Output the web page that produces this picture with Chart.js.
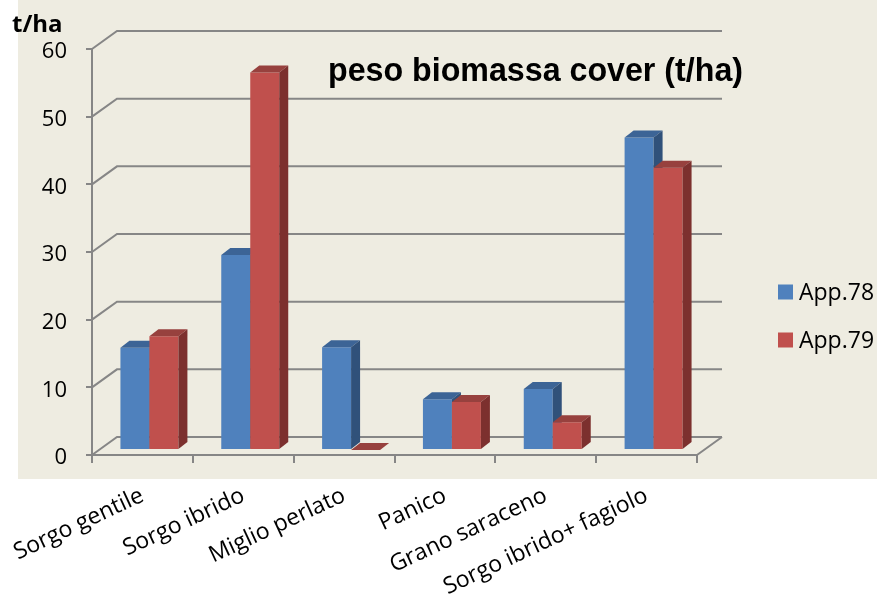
<!DOCTYPE html>
<html lang="it">
<head>
<meta charset="UTF-8">
<title>peso biomassa cover</title>
<script src="https://cdn.jsdelivr.net/npm/chart.js@4.4.1/dist/chart.umd.min.js"></script>
<style>
  html, body { margin: 0; padding: 0; background: #fff; }
</style>
</head>
<body>
<canvas id="chart" width="877" height="600"></canvas>
<script>
    // dati
    var categories = ['Sorgo gentile', 'Sorgo ibrido', 'Miglio perlato', 'Panico', 'Grano saraceno', 'Sorgo ibrido+ fagiolo'];
    var app78 = [15.1, 28.8, 15.2, 7.5, 9.0, 46.2];
    var app79 = [16.8, 55.8, 0, 7.1, 4.1, 41.7];
    var seriesNames = ['App.78', 'App.79'];
    var yMin = 0;
    var yMax = 60;
    var yStep = 10;

    var frontColors = ['#4F81BD', '#C0504D'];
    var topColors = ['#3C6496', '#97413E'];
    var sideColors = ['#30517A', '#7C302E'];
    var gridColor = '#868686';

    // profondita' 3D (proiezione obliqua)
    var wallDx = 25, wallDy = -18;
    var barDx = 7, barDy = -5;
    var depthDx = 9, depthDy = -7;

    function poly(ctx, pts, color) {
        ctx.beginPath();
        ctx.moveTo(pts[0][0], pts[0][1]);
        for (var i = 1; i < pts.length; i++) ctx.lineTo(pts[i][0], pts[i][1]);
        ctx.closePath();
        ctx.fillStyle = color;
        ctx.fill();
    }

    var frame3d = {
        id: 'frame3d',
        beforeDraw: function(chart) {
            var ctx = chart.ctx;
            ctx.save();
            ctx.fillStyle = '#ffffff';
            ctx.fillRect(0, 0, chart.width, chart.height);
            ctx.fillStyle = '#EEECE1';
            ctx.fillRect(18, 0, chart.width - 18, 479);
            ctx.restore();
        },
        beforeDatasetsDraw: function(chart) {
            var ctx = chart.ctx;
            var area = chart.chartArea;
            var yScale = chart.scales.y;

            // pareti: linee griglia sul fondo e diagonali sul lato sinistro
            ctx.save();
            ctx.strokeStyle = gridColor;
            ctx.lineWidth = 2;
            ctx.beginPath();
            for (var v = yMin; v <= yMax; v += yStep) {
                var py = yScale.getPixelForValue(v);
                ctx.moveTo(area.left, py);
                ctx.lineTo(area.left + wallDx, py + wallDy);
                ctx.lineTo(area.right + wallDx, py + wallDy);
            }
            // lato destro del pavimento
            var y0 = yScale.getPixelForValue(0);
            ctx.moveTo(area.right, y0);
            ctx.lineTo(area.right + wallDx, y0 + wallDy);
            ctx.stroke();
            ctx.restore();

            // barre: faccia frontale dalla libreria, poi cima e fianco
            ctx.save();
            ctx.translate(barDx, barDy);
            for (var i = 0; i < categories.length; i++) {
                for (var d = 0; d < chart.data.datasets.length; d++) {
                    var bar = chart.getDatasetMeta(d).data[i];
                    var p = bar.getProps(['x', 'y', 'base', 'width'], true);
                    var l = p.x - p.width / 2, r = p.x + p.width / 2;
                    var t = Math.min(p.y, p.base), b = Math.max(p.y, p.base);
                    bar.draw(ctx);
                    poly(ctx, [[l, t], [l + depthDx, t + depthDy], [r + depthDx, t + depthDy], [r, t]], topColors[d]);
                    poly(ctx, [[r, t], [r + depthDx, t + depthDy], [r + depthDx, b + depthDy], [r, b]], sideColors[d]);
                }
            }
            ctx.restore();
            return false;
        },
        afterDraw: function(chart) {
            var ctx = chart.ctx;
            ctx.save();
            ctx.fillStyle = '#000';
            ctx.textBaseline = 'alphabetic';
            ctx.textAlign = 'left';

            ctx.font = 'bold 33px "Liberation Sans", Arial, sans-serif';
            ctx.fillText('peso biomassa cover (t/ha)', 328, 81, 415);

            ctx.font = 'bold 24px "Open Sans", sans-serif';
            ctx.fillText('t/ha', 12, 32);

            // legenda
            ctx.font = '23px "Open Sans", sans-serif';
            ctx.textBaseline = 'middle';
            var ly = [292, 340];
            chart.data.datasets.forEach(function(ds, k) {
                ctx.fillStyle = ds.backgroundColor;
                ctx.fillRect(778, ly[k] - 7.5, 15, 15);
                ctx.fillStyle = '#000';
                ctx.fillText(ds.label, 799, ly[k] + 1);
            });
            ctx.restore();
        }
    };

    var ctx = document.getElementById('chart').getContext('2d');
    var chart = new Chart(ctx, {
        type: 'bar',
        data: {
            labels: categories,
            datasets: [{
                label: seriesNames[0],
                data: app78,
                backgroundColor: frontColors[0],
                borderWidth: 0
            }, {
                label: seriesNames[1],
                data: app79,
                backgroundColor: frontColors[1],
                borderWidth: 0
            }]
        },
        options: {
            responsive: false,
            animation: false,
            devicePixelRatio: 1,
            categoryPercentage: 0.575,
            barPercentage: 1,
            layout: {
                autoPadding: false,
                padding: { top: 49, right: 180, left: 0, bottom: 0 }
            },
            plugins: {
                legend: { display: false },
                tooltip: { enabled: false }
            },
            scales: {
                x: {
                    afterFit: function(scale) {
                        scale.height = 145;
                        scale.paddingLeft = 0;
                        scale.paddingRight = 0;
                    },
                    grid: {
                        offset: true,
                        drawOnChartArea: false,
                        color: gridColor,
                        lineWidth: 2,
                        tickLength: 8
                    },
                    border: { display: true, color: gridColor, width: 2 },
                    ticks: {
                        autoSkip: false,
                        maxRotation: 25,
                        minRotation: 25,
                        padding: 19,
                        color: '#000',
                        font: { family: '"Open Sans", sans-serif', size: 23 }
                    }
                },
                y: {
                    min: yMin,
                    max: yMax,
                    afterFit: function(scale) { scale.width = 92; },
                    grid: {
                        drawOnChartArea: false,
                        color: gridColor,
                        lineWidth: 2,
                        tickLength: 6
                    },
                    border: { display: true, color: gridColor, width: 2 },
                    ticks: {
                        stepSize: yStep,
                        padding: 19,
                        labelOffset: 3,
                        color: '#000',
                        font: { family: '"Open Sans", sans-serif', size: 22 }
                    }
                }
            }
        },
        plugins: [frame3d]
    });
</script>
</body>
</html>
